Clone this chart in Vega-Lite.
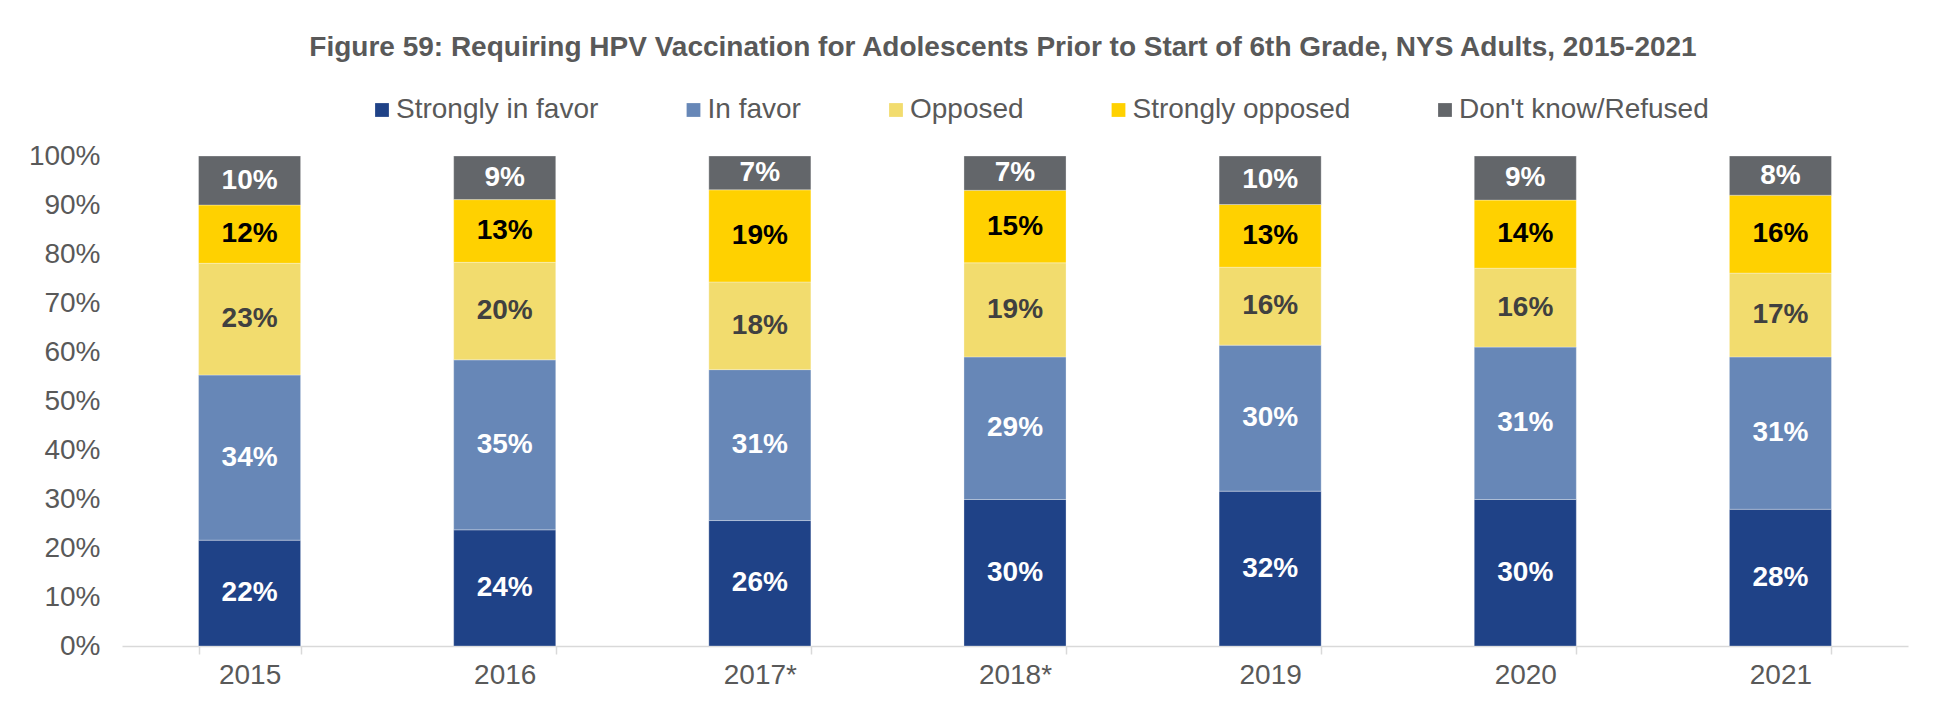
{
  "$schema": "https://vega.github.io/schema/vega-lite/v6.json",
  "width": 1786,
  "height": 490,
  "autosize": {"type": "none"},
  "padding": {"left": 122, "top": 156, "right": 31, "bottom": 59},
  "background": "white",
  "title": {
    "text": "Figure 59: Requiring HPV Vaccination for Adolescents Prior to Start of 6th Grade, NYS Adults, 2015-2021",
    "font": "Liberation Sans",
    "fontSize": 28,
    "fontWeight": "bold",
    "color": "#595959",
    "anchor": "middle",
    "frame": "group",
    "dx": -12,
    "offset": 34
  },
  "data": {
    "values": [
      {"year": "2015", "cat": "Strongly in favor", "k": 1, "v": 0.216},
      {"year": "2015", "cat": "In favor", "k": 2, "v": 0.337},
      {"year": "2015", "cat": "Opposed", "k": 3, "v": 0.228},
      {"year": "2015", "cat": "Strongly opposed", "k": 4, "v": 0.119},
      {"year": "2015", "cat": "Don't know/Refused", "k": 5, "v": 0.100},
      {"year": "2016", "cat": "Strongly in favor", "k": 1, "v": 0.237},
      {"year": "2016", "cat": "In favor", "k": 2, "v": 0.347},
      {"year": "2016", "cat": "Opposed", "k": 3, "v": 0.199},
      {"year": "2016", "cat": "Strongly opposed", "k": 4, "v": 0.128},
      {"year": "2016", "cat": "Don't know/Refused", "k": 5, "v": 0.089},
      {"year": "2017*", "cat": "Strongly in favor", "k": 1, "v": 0.256},
      {"year": "2017*", "cat": "In favor", "k": 2, "v": 0.308},
      {"year": "2017*", "cat": "Opposed", "k": 3, "v": 0.179},
      {"year": "2017*", "cat": "Strongly opposed", "k": 4, "v": 0.188},
      {"year": "2017*", "cat": "Don't know/Refused", "k": 5, "v": 0.069},
      {"year": "2018*", "cat": "Strongly in favor", "k": 1, "v": 0.299},
      {"year": "2018*", "cat": "In favor", "k": 2, "v": 0.291},
      {"year": "2018*", "cat": "Opposed", "k": 3, "v": 0.192},
      {"year": "2018*", "cat": "Strongly opposed", "k": 4, "v": 0.148},
      {"year": "2018*", "cat": "Don't know/Refused", "k": 5, "v": 0.070},
      {"year": "2019", "cat": "Strongly in favor", "k": 1, "v": 0.316},
      {"year": "2019", "cat": "In favor", "k": 2, "v": 0.298},
      {"year": "2019", "cat": "Opposed", "k": 3, "v": 0.159},
      {"year": "2019", "cat": "Strongly opposed", "k": 4, "v": 0.128},
      {"year": "2019", "cat": "Don't know/Refused", "k": 5, "v": 0.099},
      {"year": "2020", "cat": "Strongly in favor", "k": 1, "v": 0.299},
      {"year": "2020", "cat": "In favor", "k": 2, "v": 0.311},
      {"year": "2020", "cat": "Opposed", "k": 3, "v": 0.161},
      {"year": "2020", "cat": "Strongly opposed", "k": 4, "v": 0.139},
      {"year": "2020", "cat": "Don't know/Refused", "k": 5, "v": 0.090},
      {"year": "2021", "cat": "Strongly in favor", "k": 1, "v": 0.279},
      {"year": "2021", "cat": "In favor", "k": 2, "v": 0.311},
      {"year": "2021", "cat": "Opposed", "k": 3, "v": 0.171},
      {"year": "2021", "cat": "Strongly opposed", "k": 4, "v": 0.159},
      {"year": "2021", "cat": "Don't know/Refused", "k": 5, "v": 0.080}
    ]
  },
  "encoding": {
    "x": {
      "field": "year",
      "type": "nominal",
      "scale": {"paddingInner": 0.6, "paddingOuter": 0.3},
      "axis": {
        "title": null,
        "labelAngle": 0,
        "labelFont": "Liberation Sans",
        "labelFontSize": 28,
        "labelColor": "#595959",
        "labelPadding": 7,
        "domainColor": "#d9d9d9",
        "domainWidth": 1.5,
        "tickColor": "#d9d9d9",
        "tickWidth": 1.5,
        "tickSize": 8,
        "tickBand": "extent"
      }
    },
    "y": {
      "field": "v",
      "type": "quantitative",
      "stack": "zero",
      "scale": {"domain": [0, 1], "nice": false},
      "axis": {
        "title": null,
        "format": ".0%",
        "values": [0, 0.1, 0.2, 0.3, 0.4, 0.5, 0.6, 0.7, 0.8, 0.9, 1.0],
        "labelFont": "Liberation Sans",
        "labelFontSize": 28,
        "labelColor": "#595959",
        "labelPadding": 22,
        "domain": false,
        "ticks": false,
        "grid": false
      }
    },
    "order": {"field": "k", "type": "quantitative", "sort": "ascending"}
  },
  "layer": [
    {
      "mark": {"type": "bar", "stroke": "#ffffff", "strokeWidth": 0.6, "strokeOpacity": 0.5},
      "encoding": {
        "color": {
          "field": "cat",
          "type": "nominal",
          "sort": ["Strongly in favor", "In favor", "Opposed", "Strongly opposed", "Don't know/Refused"],
          "scale": {
            "domain": ["Strongly in favor", "In favor", "Opposed", "Strongly opposed", "Don't know/Refused"],
            "range": ["#1F4287", "#6787B7", "#F2DC6E", "#FFD100", "#63666A"]
          },
          "legend": {
            "title": null,
            "orient": "none",
            "legendX": 246,
            "legendY": -60,
            "direction": "horizontal",
            "symbolType": "square",
            "symbolSize": 190,
            "symbolStrokeWidth": 0,
            "labelFont": "Liberation Sans",
            "labelFontSize": 28,
            "labelColor": "#595959",
            "labelOffset": 0,
            "labelLimit": 500,
            "columnPadding": 80.5
          }
        }
      }
    },
    {
      "mark": {"type": "text", "font": "Liberation Sans", "fontSize": 28, "fontWeight": "bold", "baseline": "middle"},
      "encoding": {
        "y": {"field": "v", "type": "quantitative", "stack": "zero", "bandPosition": 0.5},
        "text": {"field": "v", "type": "quantitative", "format": ".0%"},
        "color": {
          "condition": [
            {"test": "datum.cat === 'Opposed'", "value": "#404040"},
            {"test": "datum.cat === 'Strongly opposed'", "value": "#000000"}
          ],
          "value": "#ffffff"
        }
      }
    }
  ],
  "config": {"view": {"stroke": null}}
}
